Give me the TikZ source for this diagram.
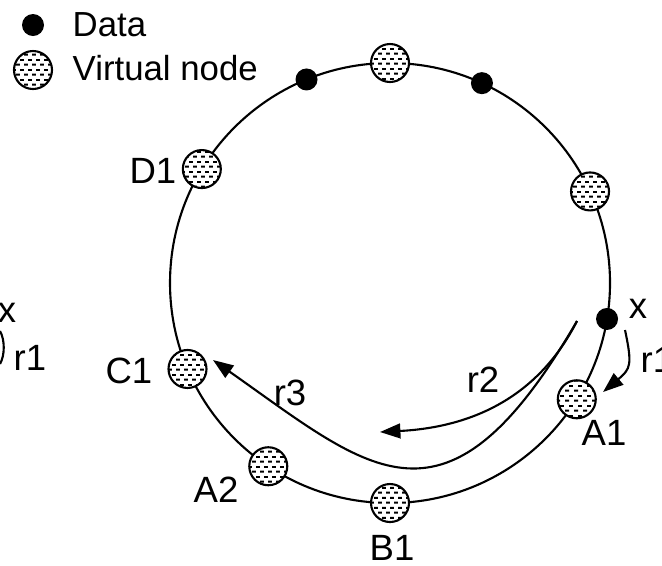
\documentclass[tikz,border=0pt]{standalone}
\usepackage{fontspec}
\setmainfont{Liberation Sans}
\usepackage{tikz}
\usetikzlibrary{arrows.meta, patterns}

\pgfdeclarepatternformonly{ringdashes}{\pgfqpoint{0pt}{0pt}}{\pgfqpoint{2.4pt}{2.9pt}}{\pgfqpoint{2.4pt}{2.9pt}}{
  \pgfsetlinewidth{0.6pt}
  \pgfpathmoveto{\pgfqpoint{0.05pt}{0.7pt}}\pgfpathlineto{\pgfqpoint{1.2pt}{0.7pt}}
  \pgfpathmoveto{\pgfqpoint{1.25pt}{2.15pt}}\pgfpathlineto{\pgfqpoint{2.35pt}{2.15pt}}
  \pgfusepath{stroke}
}

\tikzset{
	ring/.style={line width=0.6pt}
}
\tikzset{
	vnode/.style={circle, draw, line width=0.6pt, minimum size=0.38cm, inner sep=0pt,
	  pattern=ringdashes, preaction={fill=white}},
	datadot/.style={circle, fill=black, minimum size=0.22cm, inner sep=0pt}
}
\tikzset{
	ringlabel/.style={inner sep=0pt, font=\fontsize{10.4}{12}\selectfont},
	legendtext/.style={inner sep=0pt, font=\fontsize{9.9}{12}\selectfont},
	lookup/.style={line width=0.6pt, -{Triangle[length=5.8pt,width=4.2pt]}}
}

\begin{document}
\begin{tikzpicture}
  \useasboundingbox (0,0) rectangle (6.62,-5.65);
  \clip (0,0) rectangle (6.62,-5.65);
  % legend
  \node[datadot] (legdata) at (0.33,-0.25) {};
  \node[legendtext, anchor=west] (legdatatext) at (0.72,-0.25) {Data};
  \node[vnode] (legvnode) at (0.33,-0.70) {};
  \node[legendtext, anchor=west] (legvnodetext) at (0.72,-0.68) {Virtual node};
  % ring with virtual nodes and data
  \begin{scope}[shift={(3.90,-2.83)}]
    \draw[ring] (0,0) circle (2.2);
    \foreach \a/\n in {90/Vtop, 24.6/Vright, -31.9/A1, -90/B1, 236.4/A2, 203/C1, 148.8/D1}
      \node[vnode] (\n) at (\a:2.2) {};
    \foreach \a/\n in {112.3/dataL, 65.3/dataR, -9.4/datax}
      \node[datadot] (\n) at (\a:2.2) {};
  \end{scope}
  \node[ringlabel, anchor=east] (D1lab) at (1.77,-1.71) {D1};
  \node[ringlabel, anchor=east] (C1lab) at (1.53,-3.71) {C1};
  \node[ringlabel] (A2lab) at (2.16,-4.90) {A2};
  \node[ringlabel] (B1lab) at (3.92,-5.48) {B1};
  \node[ringlabel] (A1lab) at (6.04,-4.33) {A1};
  \node[ringlabel] (xlab) at (6.38,-3.09) {x};
  \node[ringlabel, anchor=west] (r1lab) at (6.40,-3.60) {r1};
  \node[ringlabel] (r2lab) at (4.83,-3.80) {r2};
  \node[ringlabel] (r3lab) at (2.90,-3.93) {r3};
  % lookups
  \coordinate (r1from) at (6.25,-3.30);
  \coordinate (r1tip) at (6.03,-3.92);
  \coordinate (rfrom) at (5.77,-3.21);
  \coordinate (r2tip) at (3.80,-4.32);
  \coordinate (r3tip) at (2.13,-3.60);
  \draw[lookup] (r1from) to[out=-78, in=40, looseness=1.4] (r1tip);
  \draw[lookup] (rfrom) to[out=-117, in=3] (r2tip);
  \draw[lookup] (rfrom) .. controls (4.46,-5.47) and (3.71,-4.71) .. (r3tip);
  % cut-off part on the left edge
  \node[ringlabel] (xleft) at (0.07,-3.13) {x};
  \node[ringlabel, anchor=west] (r1left) at (0.13,-3.58) {r1};
  \draw[ring] (0,-3.31) .. controls (0.05,-3.40) and (0.05,-3.55) .. (0,-3.64);
\end{tikzpicture}
\end{document}
